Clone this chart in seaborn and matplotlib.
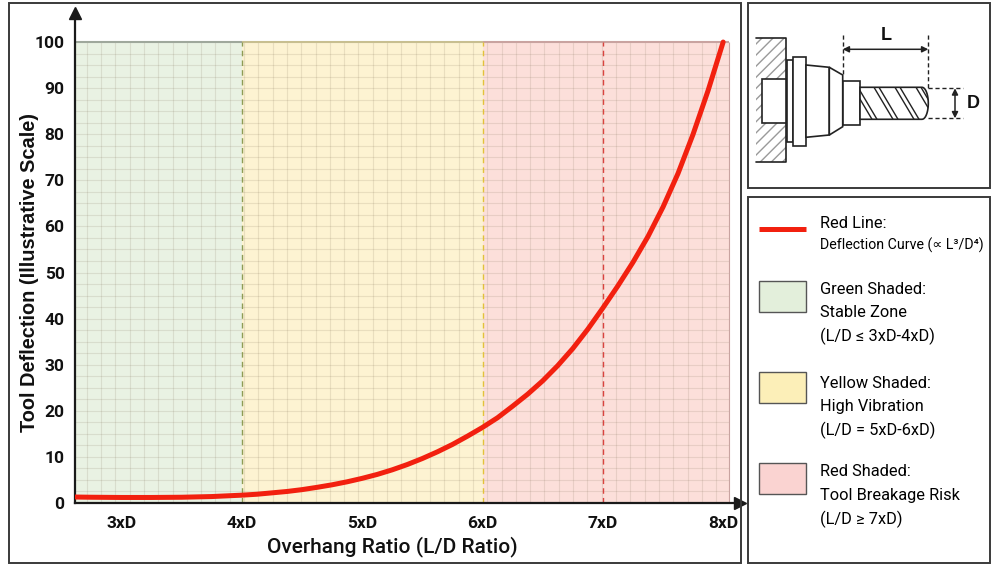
import numpy as np
import pandas as pd
import matplotlib
matplotlib.use("Agg")
import matplotlib.pyplot as plt
import seaborn as sns
from matplotlib.patches import Rectangle, Polygon

# ---------------- data ----------------
ld_ratio = [2.6, 2.75, 3.0, 3.25, 3.5, 3.75, 3.875, 4.0, 4.125, 4.25, 4.375,
            4.5, 4.625, 4.75, 4.875, 5.0, 5.125, 5.25, 5.375, 5.5, 5.625,
            5.75, 5.875, 6.0, 6.125, 6.25, 6.375, 6.5, 6.625, 6.75, 6.875,
            7.0, 7.125, 7.25, 7.375, 7.5, 7.625, 7.75, 7.875, 8.0]
deflection = [1.3, 1.25, 1.2, 1.2, 1.25, 1.4, 1.55, 1.7, 1.9, 2.2, 2.5,
              2.9, 3.4, 3.95, 4.6, 5.35, 6.2, 7.2, 8.35, 9.65, 11.1,
              12.7, 14.5, 16.4, 18.5, 21.0, 23.6, 26.5, 29.8, 33.5, 37.7,
              42.3, 47.1, 52.2, 57.8, 64.2, 71.5, 80.0, 89.5, 100.0]

zone_starts = [2.6, 4.0, 6.0]
zone_ends = [4.0, 6.0, 8.05]
zone_colors = ["#e9f2e3", "#fdf3d2", "#fcdfda"]
zone_top_colors = ["#9fa89c", "#c8bf90", "#c9a3a0"]

boundary_values = [4, 6, 7]
boundary_colors = ["#8d9c55", "#e2c23a", "#d9433f"]

x_tick_values = [3, 4, 5, 6, 7, 8]
x_tick_labels = ["3xD", "4xD", "5xD", "6xD", "7xD", "8xD"]
y_tick_values = [0, 10, 20, 30, 40, 50, 60, 70, 80, 90, 100]

legend_titles = ["Red Line:", "Green Shaded:", "Yellow Shaded:", "Red Shaded:"]
legend_lines = [["Deflection Curve (\u221d L\u00b3/D\u2074)"],
                ["Stable Zone", "(L/D \u2264 3xD-4xD)"],
                ["High Vibration", "(L/D = 5xD-6xD)"],
                ["Tool Breakage Risk", "(L/D \u2265 7xD)"]]

df = pd.DataFrame({"ld": ld_ratio, "defl": deflection})

# ---------------- style ----------------
sns.set_theme(style="white")
NARROW = ["Roboto", "DejaVu Sans"]
BOLDF = ["Liberation Sans", "DejaVu Sans"]
plt.rcParams["font.family"] = NARROW

fig = plt.figure(figsize=(10, 5.68), dpi=100)
fig.patch.set_facecolor("white")

# main axes (pixel layout: left 75, right 740, bottom 503, top 13)
ax = fig.add_axes([75 / 1000, 65 / 568, 665 / 1000, 490 / 568])
XMIN, XMAX = 2.613, 8.14
YMAX = 106.3
ax.set_xlim(XMIN, XMAX)
ax.set_ylim(0, YMAX)
ax.set_facecolor("white")

# zones
for x0, x1, c in zip(zone_starts, zone_ends, zone_colors):
    ax.fill_between([max(x0, XMIN), x1], 0, 100, color=c, lw=0, zorder=0)

# light grid within the zones
gx = np.arange(2.71, 8.05, 0.1189)
ax.vlines(gx, 0, 100, color="#7a6a50", alpha=0.15, lw=0.8, zorder=1)
gy = np.arange(2.5, 100, 2.5)
ax.hlines(gy, XMIN, 8.05, color="#7a6a50", alpha=0.15, lw=0.8, zorder=1)

# top edge of zones
for x0, x1, c in zip(zone_starts, zone_ends, zone_top_colors):
    ax.hlines(100, max(x0, XMIN), x1, color=c, lw=1.5, zorder=2)
ax.vlines(zone_ends[-1], 0, 100, color=zone_top_colors[-1], lw=0.8, zorder=2)

# dashed boundaries
for v, c in zip(boundary_values, boundary_colors):
    ax.vlines(v, 0, 100, color=c, lw=1.0, linestyles=(0, (4, 3)), zorder=2)

# curve
sns.lineplot(data=df, x="ld", y="defl", ax=ax, color="#f2200f", lw=3.6,
             zorder=4, legend=False)

# axes styling
for s in ["top", "right"]:
    ax.spines[s].set_visible(False)
for s in ["left", "bottom"]:
    ax.spines[s].set_color("#1a1a1a")
    ax.spines[s].set_linewidth(1.6)
ax.plot([0], [1], marker="^", color="#1a1a1a", ms=8, transform=ax.transAxes,
        clip_on=False, zorder=6)
ax.plot([1], [0], marker=">", color="#1a1a1a", ms=8, transform=ax.transAxes,
        clip_on=False, zorder=6)

ax.set_xticks(x_tick_values)
ax.set_xticklabels(x_tick_labels)
ax.set_yticks(y_tick_values)
ax.tick_params(axis="both", direction="inout", length=7, width=1.2,
               color="#1a1a1a", labelsize=12.5, labelcolor="#111", pad=4)
ax.tick_params(axis="x", pad=6)
for t in ax.get_xticklabels() + ax.get_yticklabels():
    t.set_fontweight("bold")

ax.set_xlabel("Overhang Ratio (L/D Ratio)", fontsize=15, color="#111",
              fontweight="medium")
ax.xaxis.set_label_coords(0.477, -0.068)
ax.set_ylabel("Tool Deflection (Illustrative Scale)", fontsize=14.4,
              fontweight="bold", color="#111", family=BOLDF)
ax.yaxis.set_label_coords(-0.054, 0.471)

# ---------------- overlay (panels, diagram, legend) ----------------
ov = fig.add_axes([0, 0, 1, 1], zorder=5)
ov.set_xlim(0, 1000)
ov.set_ylim(568, 0)
ov.axis("off")
ov.patch.set_alpha(0)

box_kw = dict(fill=False, ec="#3a3a3a", lw=1.4)
ov.add_patch(Rectangle((9, 3), 732, 560, **box_kw))
ov.add_patch(Rectangle((748, 3), 242, 185, **box_kw))
ov.add_patch(Rectangle((748, 197), 242, 366, **box_kw))

# --- tool diagram ---
k = "#222222"
ov.add_patch(Rectangle((756, 38.3), 29.5, 123.4, facecolor="white",
                       edgecolor="#9a9a9a", hatch="///", lw=0))
ov.plot([756, 785.5, 785.5, 756], [38.3, 38.3, 161.7, 161.7], color=k, lw=1.2)
ov.add_patch(Rectangle((761.7, 79.3), 25, 44, fc="white", ec=k, lw=1.2))
ov.add_patch(Rectangle((786.7, 60), 6.6, 81.7, fc="white", ec=k, lw=1.2))
ov.add_patch(Rectangle((793.3, 57.3), 12.7, 88.7, fc="white", ec=k, lw=1.2))
ov.add_patch(Polygon([(806, 65), (829.3, 67.3), (829.3, 135), (806, 137.3)],
                     closed=True, fc="white", ec=k, lw=1.2))
ov.add_patch(Polygon([(829.3, 67.3), (842.7, 75), (842.7, 126.7), (829.3, 135)],
                     closed=True, fc="white", ec=k, lw=1.2))
ov.add_patch(Rectangle((842.7, 80.7), 17.3, 44.3, fc="white", ec=k, lw=1.2))
# fluted part with rounded tip
th = np.linspace(-np.pi / 2, np.pi / 2, 24)
tip_x = 922 + 6.3 * np.cos(th)
tip_y = 103.3 + 16 * np.sin(th)
flute_pts = [(860, 87.3)] + list(zip(tip_x, tip_y)) + [(860, 119.3)]
flute = Polygon(flute_pts, closed=True, fc="white", ec=k, lw=1.2, zorder=3)
ov.add_patch(flute)
for sx in [853, 874, 895, 916]:
    for off in (0, 5):
        ln, = ov.plot([sx + off, sx + off + 19], [87.3, 119.3], color=k, lw=1.0,
                      zorder=4)
        ln.set_clip_path(flute)
# L dimension
dash = (0, (3, 2))
ov.plot([842.7, 842.7], [35, 76], color=k, lw=1.0, ls=dash)
ov.plot([928.3, 928.3], [35, 88], color=k, lw=1.0, ls=dash)
ov.annotate("", xy=(842.7, 49.3), xytext=(928.3, 49.3),
            arrowprops=dict(arrowstyle="<|-|>", color=k, lw=1.1,
                            shrinkA=0, shrinkB=0, mutation_scale=9))
ov.text(886, 36, "L", fontsize=13, fontweight="bold", ha="center", va="center",
        family=BOLDF, color="#111")
# D dimension
ov.plot([928.3, 963.3], [88.3, 88.3], color=k, lw=1.0, ls=dash)
ov.plot([928.3, 963.3], [118.3, 118.3], color=k, lw=1.0, ls=dash)
ov.annotate("", xy=(955, 88.3), xytext=(955, 118.3),
            arrowprops=dict(arrowstyle="<|-|>", color=k, lw=1.1,
                            shrinkA=0, shrinkB=0, mutation_scale=9))
ov.text(973, 104, "D", fontsize=13, fontweight="bold", ha="center", va="center",
        family=BOLDF, color="#111")

# --- legend panel ---
ov.plot([759, 806], [229, 229], color="#f2200f", lw=3.6, solid_capstyle="butt")
patch_colors = ["#e3efdb", "#fcefb8", "#fad3d1"]
patch_tops = [281, 372, 463]
for c, t in zip(patch_colors, patch_tops):
    ov.add_patch(Rectangle((759, t), 47, 31, fc=c, ec="#555555", lw=1.0))

title_y = [223, 289, 383, 472]
for i, (title, lines) in enumerate(zip(legend_titles, legend_lines)):
    ov.text(820, title_y[i], title, fontsize=11.8, ha="left", va="center",
            color="#000")
    for j, ln in enumerate(lines):
        fs = 10.2 if i == 0 else 11.8
        dy = 22 if i == 0 else 23.5
        ov.text(820, title_y[i] + dy * (j + 1), ln, fontsize=fs, ha="left",
                va="center", color="#000", family=NARROW)

fig.savefig("out.png", dpi=100, facecolor="white")
